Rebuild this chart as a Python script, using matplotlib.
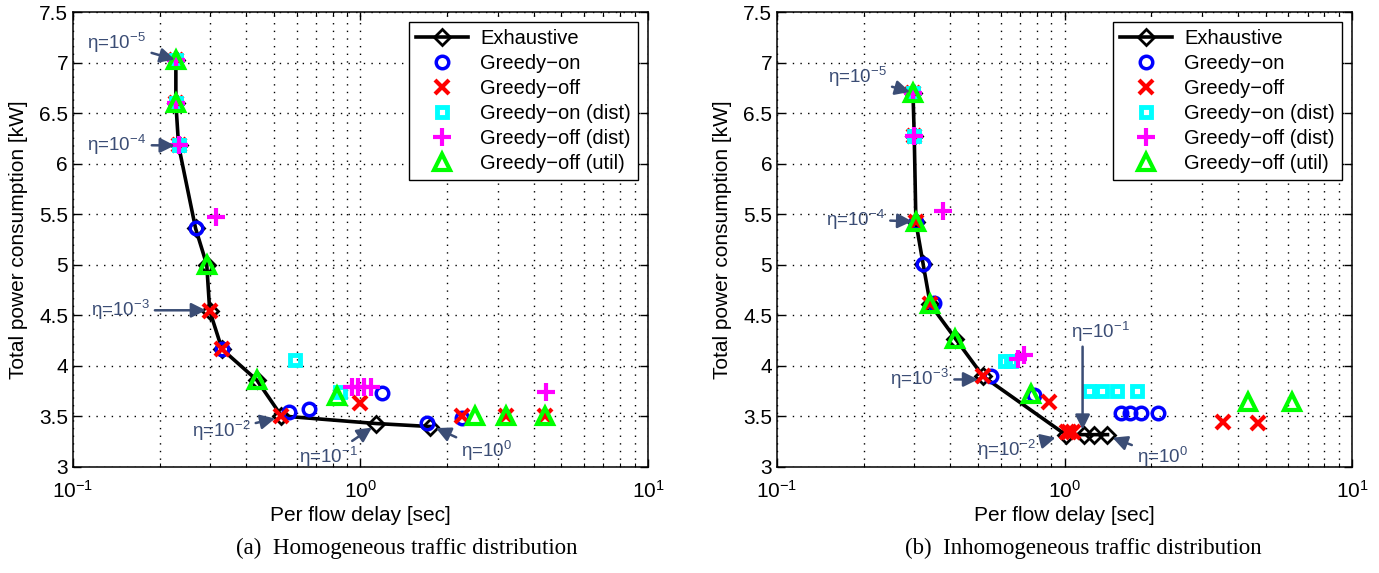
import matplotlib
matplotlib.use('Agg')
import matplotlib.pyplot as plt
from matplotlib.ticker import LogLocator, NullFormatter

plt.rcParams['font.family'] = ['Liberation Sans', 'DejaVu Sans']
plt.rcParams['mathtext.fontset'] = 'custom'
plt.rcParams['mathtext.rm'] = 'Liberation Sans'
plt.rcParams['mathtext.it'] = 'Liberation Sans:italic'
plt.rcParams['mathtext.bf'] = 'Liberation Sans:bold'

# ---- (a) homogeneous ----
a_exh_x = [0.228, 0.228, 0.233, 0.267, 0.292, 0.299, 0.330, 0.436, 0.531, 1.134, 1.75]
a_exh_y = [7.03, 6.60, 6.18, 5.36, 5.00, 4.545, 4.165, 3.86, 3.505, 3.43, 3.40]
a_gon_x = [0.228, 0.228, 0.233, 0.267, 0.330, 0.565, 0.660, 1.186, 1.71, 2.26]
a_gon_y = [7.03, 6.60, 6.18, 5.36, 4.165, 3.54, 3.57, 3.73, 3.44, 3.48]
a_goff_x = [0.228, 0.228, 0.233, 0.299, 0.330, 0.531, 1.0, 2.26, 3.22, 4.40]
a_goff_y = [7.03, 6.60, 6.18, 4.545, 4.165, 3.505, 3.63, 3.50, 3.50, 3.50]
a_gond_x = [0.228, 0.228, 0.233, 0.59, 0.85]
a_gond_y = [7.03, 6.60, 6.18, 4.056, 3.74]
a_goffd_x = [0.228, 0.228, 0.233, 0.315, 0.934, 0.98, 1.027, 1.087, 4.43]
a_goffd_y = [7.03, 6.60, 6.18, 5.47, 3.79, 3.79, 3.79, 3.79, 3.74]
a_util_x = [0.228, 0.228, 0.292, 0.436, 0.83, 2.50, 3.22, 4.40]
a_util_y = [7.03, 6.60, 5.00, 3.86, 3.70, 3.505, 3.50, 3.50]

# ---- (b) inhomogeneous ----
b_exh_x = [0.297, 0.300, 0.304, 0.322, 0.341, 0.417, 0.521, 1.008, 1.164, 1.265, 1.41]
b_exh_y = [6.70, 6.27, 5.42, 5.01, 4.61, 4.27, 3.896, 3.32, 3.32, 3.32, 3.32]
b_gon_x = [0.297, 0.300, 0.304, 0.322, 0.352, 0.555, 0.78, 1.567, 1.689, 1.85, 2.11]
b_gon_y = [6.70, 6.27, 5.42, 5.01, 4.625, 3.90, 3.71, 3.53, 3.53, 3.53, 3.53]
b_goff_x = [0.297, 0.300, 0.304, 0.341, 0.521, 0.882, 1.02, 1.04, 1.07, 3.57, 4.72]
b_goff_y = [6.70, 6.27, 5.42, 4.61, 3.896, 3.647, 3.35, 3.35, 3.35, 3.448, 3.44]
b_gond_x = [0.297, 0.300, 0.623, 0.649, 1.215, 1.353, 1.526, 1.78]
b_gond_y = [6.70, 6.27, 4.045, 4.05, 3.756, 3.756, 3.756, 3.756]
b_goffd_x = [0.297, 0.300, 0.378, 0.69, 0.72]
b_goffd_y = [6.70, 6.27, 5.53, 4.07, 4.11]
b_util_x = [0.297, 0.304, 0.341, 0.417, 0.767, 4.35, 6.17]
b_util_y = [6.70, 5.42, 4.61, 4.27, 3.72, 3.647, 3.64]

labels = ['Exhaustive', 'Greedy\u2212on', 'Greedy\u2212off', 'Greedy\u2212on (dist)',
          'Greedy\u2212off (dist)', 'Greedy\u2212off (util)']

# annotations: (label, point, text position)
a_notes = [('\u03b7=10$^{-5}$', (0.226, 7.03), (0.142, 7.195)),
           ('\u03b7=10$^{-4}$', (0.226, 6.18), (0.142, 6.185)),
           ('\u03b7=10$^{-3}$', (0.29, 4.55), (0.1457, 4.55)),
           ('\u03b7=10$^{-2}$', (0.505, 3.48), (0.327, 3.354)),
           ('\u03b7=10$^{-1}$', (1.096, 3.39), (0.771, 3.096)),
           ('\u03b7=10$^{0}$', (1.83, 3.385), (2.755, 3.155))]
b_notes = [('\u03b7=10$^{-5}$', (0.29, 6.71), (0.19, 6.86)),
           ('\u03b7=10$^{-4}$', (0.295, 5.43), (0.187, 5.448)),
           ('\u03b7=10$^{-3}$', (0.50, 3.866), (0.3126, 3.866)),
           ('\u03b7=10$^{-2}$', (0.93, 3.29), (0.628, 3.17)),
           ('\u03b7=10$^{0}$', (1.468, 3.29), (2.195, 3.10))]

note_color = '#3b4d75'
grid_ls = (0, (1, 4.5))


def draw_panel(ax, data, notes):
    exh_x, exh_y, gon_x, gon_y, goff_x, goff_y, gond_x, gond_y, goffd_x, goffd_y, util_x, util_y = data
    ms = 8
    mew = 2
    ax.plot(exh_x, exh_y, 'k-', lw=2.6, marker='D', ms=8, mew=2, mfc='none', label=labels[0])
    ax.plot(gon_x, gon_y, 'o', color='#0000ff', ms=ms + 1, mew=mew + 0.5, mfc='none', ls='none', label=labels[1])
    ax.plot(goff_x, goff_y, 'x', color='#ff0000', ms=ms + 2, mew=mew + 1, ls='none', label=labels[2])
    ax.plot(gond_x, gond_y, 's', color='#00ffff', ms=ms - 1, mew=mew + 1.5, mfc='none', ls='none', label=labels[3])
    ax.plot(goffd_x, goffd_y, '+', color='#ff00ff', ms=ms + 5, mew=mew + 1, ls='none', label=labels[4])
    ax.plot(util_x, util_y, '^', color='#00ff00', ms=ms + 3, mew=mew + 1, mfc='none', ls='none', label=labels[5])

    ax.set_xscale('log')
    ax.set_xlim(0.1, 10)
    ax.set_ylim(3, 7.5)
    ax.set_yticks([3, 3.5, 4, 4.5, 5, 5.5, 6, 6.5, 7, 7.5])
    ax.set_yticklabels(['3', '3.5', '4', '4.5', '5', '5.5', '6', '6.5', '7', '7.5'])
    ax.xaxis.set_minor_locator(LogLocator(base=10, subs=range(2, 10)))
    ax.xaxis.set_minor_formatter(NullFormatter())
    ax.grid(True, which='major', ls=grid_ls, color='k', lw=1.0)
    ax.grid(True, which='minor', axis='x', ls=grid_ls, color='k', lw=1.0)
    ax.tick_params(which='both', direction='in', top=True, right=True, labelsize=15)
    ax.tick_params(axis='x', which='major', pad=9)
    ax.tick_params(which='major', length=6, width=1)
    ax.tick_params(which='minor', length=3, width=0.8)
    for s in ax.spines.values():
        s.set_linewidth(1.1)
    ax.set_xlabel('Per flow delay [sec]', fontsize=15, labelpad=3)
    ax.set_ylabel('Total power consumption [kW]', fontsize=15, labelpad=8)

    for txt, xy, xyt in notes:
        ax.annotate(txt, xy=xy, xytext=xyt, ha='center', va='center', fontsize=13.5, color=note_color,
                    arrowprops=dict(arrowstyle='-|>', color=note_color, lw=1.8, mutation_scale=22,
                                    shrinkA=2, shrinkB=0))

    leg = ax.legend(loc='upper right', fontsize=14.5, frameon=True, fancybox=False, framealpha=1,
                    edgecolor='k', handlelength=2.6, labelspacing=0.3, borderpad=0.35,
                    handletextpad=0.6, borderaxespad=0.5)
    leg.get_frame().set_linewidth(1.0)


fig = plt.figure(figsize=(13.79, 5.73), dpi=100)
ax1 = fig.add_axes([0.0529, 0.185, 0.417, 0.794])
ax2 = fig.add_axes([0.5635, 0.185, 0.417, 0.794])

draw_panel(ax1, [a_exh_x, a_exh_y, a_gon_x, a_gon_y, a_goff_x, a_goff_y,
                 a_gond_x, a_gond_y, a_goffd_x, a_goffd_y, a_util_x, a_util_y], a_notes)
draw_panel(ax2, [b_exh_x, b_exh_y, b_gon_x, b_gon_y, b_goff_x, b_goff_y,
                 b_gond_x, b_gond_y, b_goffd_x, b_goffd_y, b_util_x, b_util_y], b_notes)

# vertical arrow for eta=10^-1 in panel (b)
ax2.text(1.335, 4.333, '\u03b7=10$^{-1}$', ha='center', va='center', fontsize=13.5, color=note_color)
ax2.annotate('', xy=(1.155, 3.37), xytext=(1.155, 4.19),
             arrowprops=dict(arrowstyle='-|>', color=note_color, lw=1.8, mutation_scale=22,
                             shrinkA=0, shrinkB=0))

fig.text(407 / 1379, 1 - 548 / 573, '(a)  Homogeneous traffic distribution', ha='center', va='center',
         fontsize=16.5, family='Liberation Serif')
fig.text(1083 / 1379, 1 - 548 / 573, '(b)  Inhomogeneous traffic distribution', ha='center', va='center',
         fontsize=16.5, family='Liberation Serif')

fig.savefig('out.png', dpi=100)
